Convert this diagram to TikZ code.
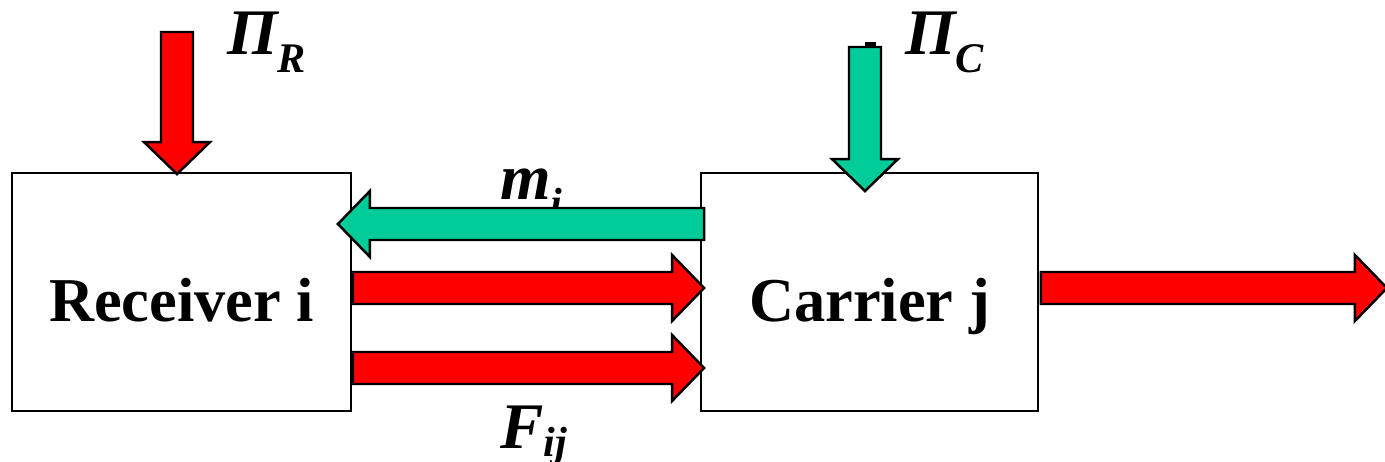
\documentclass[tikz,border=0pt]{standalone}
\usepackage{fontspec}
\setmainfont{Liberation Serif}
\usepackage{tikz}
\usetikzlibrary{calc, positioning}
\definecolor{flowred}{RGB}{255,0,0}
\definecolor{flowgreen}{RGB}{0,204,153}

\tikzset{
  block/.style={draw=black, line width=1.1pt, minimum width=6.78cm, minimum height=4.76cm, inner sep=0pt},
  boxtext/.style={font=\fontsize{35.5pt}{40pt}\selectfont\bfseries, anchor=base, inner sep=0pt},
  symlabel/.style={font=\fontsize{37pt}{40pt}\selectfont\bfseries\itshape, anchor=base west, inner sep=0pt},
  redflow/.style={fill=flowred, draw=black, line width=1.4pt, line join=miter},
  greenflow/.style={fill=flowgreen, draw=black, line width=1.4pt, line join=miter}
}
% block arrow: style, tail, tip
\newcommand{\fatarrow}[3]{%
  \coordinate (hb) at ($(#3)!0.64cm!(#2)$);
  \draw[#1] ($(#2)!0.32cm!90:(#3)$) -- ($(hb)!0.32cm!90:(#3)$) -- ($(hb)!0.66cm!90:(#3)$)
    -- (#3) -- ($(hb)!0.66cm!-90:(#3)$) -- ($(hb)!0.32cm!-90:(#3)$) -- ($(#2)!0.32cm!-90:(#3)$) -- cycle;}
\newcommand{\sublabel}[2][10pt]{\raisebox{-#1}{\fontsize{24pt}{26pt}\selectfont #2}}

\begin{document}
\begin{tikzpicture}[x=0.02cm, y=-0.02cm]
  \useasboundingbox (0,0) rectangle (1385,462);
  % boxes
  \node[block] (recv) at (181.5,292) {};
  \node[block, minimum width=6.74cm] (carr) at (869.5,292) {};
  \node[boxtext] (recvtext) at ($(recv.center)+(0,29)$) {Receiver i};
  \node[boxtext] (carrtext) at ($(carr.center)+(0,29)$) {Carrier j};
  % labels
  \node[symlabel] (piR) at (227,55) {Π\sublabel{R}};
  \node[symlabel] (piC) at (905,55) {Π\sublabel{C}};
  \node[symlabel] (mlab) at (500,200) {m\sublabel{i}};
  \node[symlabel] (flab) at (500,448) {F\sublabel[5pt]{ij}};
  % end points
  \coordinate (piRtail) at (177,32);
  \coordinate (piCtail) at (865,47);
  \coordinate (mtail) at ($(carr.west)+(4,-68)$);
  \coordinate (mtip) at ($(recv.east)+(-14,-68)$);
  \coordinate (f1tail) at ($(recv.east)+(1,-4)$);
  \coordinate (f1tip) at ($(carr.west)+(4,-4)$);
  \coordinate (f2tail) at ($(recv.east)+(1,76)$);
  \coordinate (f2tip) at ($(carr.west)+(4,76)$);
  \coordinate (outtail) at ($(carr.east)+(2,-4)$);
  \coordinate (outtip) at ($(carr.east)+(348,-4)$);
  % flows
  \fill (865,42) rectangle (876,48);
  \fatarrow{redflow}{piRtail}{$(recv.north)+(-4.5,2)$}
  \fatarrow{greenflow}{piCtail}{$(carr.north)+(-4.5,19)$}
  \fatarrow{greenflow}{mtail}{mtip}
  \fatarrow{redflow}{f1tail}{f1tip}
  \fatarrow{redflow}{f2tail}{f2tip}
  \fatarrow{redflow}{outtail}{outtip}
\end{tikzpicture}
\end{document}
